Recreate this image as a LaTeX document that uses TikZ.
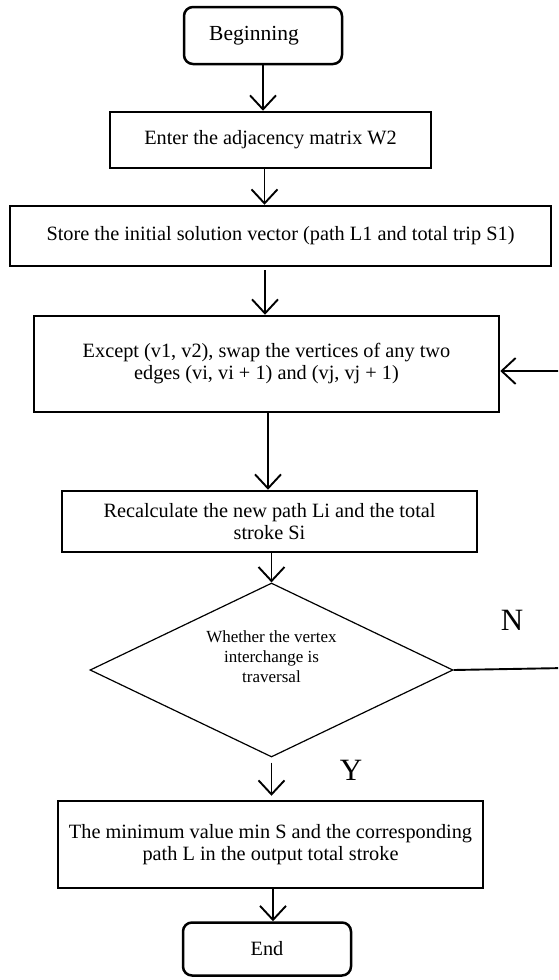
\documentclass[tikz,border=0pt]{standalone}
\usepackage{fontspec}
\setmainfont{Liberation Serif}
\usetikzlibrary{shapes.geometric,arrows.meta}
\begin{document}
\begin{tikzpicture}[x=1pt,y=-1pt,
  box/.style={draw=black,line width=2.5pt,rectangle,inner sep=0pt,align=center,font=\fontsize{20.3}{22}\selectfont},
  rbox/.style={box,rounded corners=9pt},
  dec/.style={draw=black,line width=1.2pt,diamond,aspect=2.09,minimum width=363pt,minimum height=174pt,inner sep=0pt,align=center,font=\fontsize{17}{20}\selectfont},
  arr/.style={line width=1.9pt,-{Straight Barb[length=14pt,width=26pt,line width=1.9pt]}},
  yn/.style={font=\fontsize{31}{33}\selectfont,inner sep=0pt}
]
\path[use as bounding box] (0,0) rectangle (558,980);
\clip (0,0) rectangle (558,980);

\node[rbox,minimum width=158pt,minimum height=57pt,font=\fontsize{21.5}{23}\selectfont] (beg) at (263,35.5) {Beginning\hspace*{18pt}};
\node[box,minimum width=321pt,minimum height=56pt] (ent) at (270.5,140) {Enter the adjacency matrix W2};
\node[box,minimum width=541pt,minimum height=60pt] (sto) at (280.5,236) {Store the initial solution vector (path L1 and total trip S1)};
\node[box,minimum width=465pt,minimum height=96pt] (exc) at (266.5,364) {Except (v1, v2), swap the vertices of any two\\edges (vi, vi + 1) and (vj, vj + 1)};
\node[box,minimum width=415pt,minimum height=61pt] (rec) at (269.5,521.5) {Recalculate the new path Li and the total\\stroke Si};
\node[dec] (dia) at (271.5,670) {Whether the vertex\\interchange is\\traversal\\[6pt]};
\node[box,minimum width=425pt,minimum height=87pt] (out) at (270.5,844.5) {The minimum value min S and the corresponding\\path L in the output total stroke};
\node[rbox,minimum width=168pt,minimum height=53pt] (end) at (267,949) {End};

\node[yn] (nlab) at (512,620) {N};
\node[yn] (ylab) at (351,770) {Y};

\draw[arr] (beg.south) -- (beg.south |- ent.north);
\draw[arr] ([xshift=-6pt]ent.south) -- ([xshift=-6pt]ent.south |- sto.north);
\draw[arr,shorten <=3pt] ([xshift=-15.5pt]sto.south) -- ([xshift=-15.5pt]sto.south |- exc.north);
\draw[arr] ([xshift=1.5pt]exc.south) -- ([xshift=1.5pt]exc.south |- rec.north);
\draw[arr] (rec.south -| dia.north) -- (dia.north);
\draw[arr,shorten <=5pt,shorten >=4pt] (dia.south) -- (dia.south |- out.north);
\draw[arr] ([xshift=2.5pt]out.south) -- ([xshift=2.5pt]out.south |- end.north);
\draw[arr] (dia.east) -- (566,668) -- (566,371) -- ([yshift=-7pt]exc.east);
\end{tikzpicture}
\end{document}
